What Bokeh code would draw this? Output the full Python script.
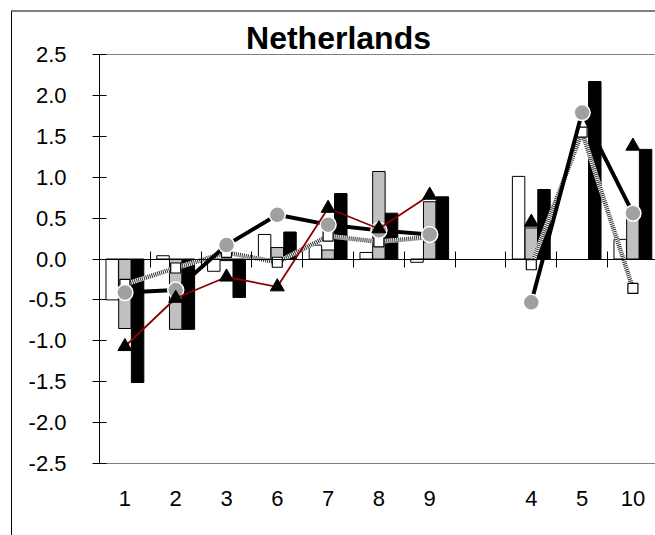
import math
from bokeh.plotting import figure
from bokeh.models import (ColumnDataSource, FixedTicker, LinearAxis, Range1d,
                          Label, PrintfTickFormatter)
from bokeh.embed import file_html
from bokeh.resources import INLINE

nan = float("nan")

# ---- data -------------------------------------------------------------
slot_labels = ["1", "2", "3", "6", "7", "8", "9", "", "4", "5", "10"]
categories = ["1", "2", "3", "6", "7", "8", "9", "4", "5", "10"]
white_bars = [-0.50, 0.04, -0.15, 0.30, 0.17, 0.08, -0.04, 1.01, nan, 0.24]
gray_bars = [-0.85, -0.86, -0.02, 0.14, 0.11, 1.07, 0.70, 0.38, nan, 0.55]
black_bars = [-1.51, -0.86, -0.47, 0.33, 0.80, 0.56, 0.76, 0.85, 2.17, 1.34]
circle_vals = [-0.41, -0.38, 0.17, 0.54, 0.42, 0.35, 0.30, -0.53, 1.79, 0.56]
triangle_vals = [-1.07, -0.48, -0.22, -0.34, 0.62, 0.37, 0.78, 0.45, nan, 1.38]
square_vals = [-0.31, -0.11, 0.08, -0.04, 0.28, 0.21, 0.27, -0.07, 1.55, -0.36]
y_ticks = [-2.5, -2.0, -1.5, -1.0, -0.5, 0.0, 0.5, 1.0, 1.5, 2.0, 2.5]
Y_MIN, Y_MAX = -2.5, 2.5
title_text = "Netherlands"

# category centre positions (slot index + 0.5)
xpos = [slot_labels.index(c) + 0.5 for c in categories]
N_SLOTS = len(slot_labels)
FONT = "Liberation Sans"

# pixel geometry (canvas == page, frame == canvas)
W, H = 655, 535
SLOT_PX = 50.8          # pixels per category slot
UNIT_PX = 81.8          # pixels per y unit
AXIS_X = 99             # value axis position (px from left)
TOP_Y = 54              # y = 2.5 position (px from top)
BOX = 10.5              # outer box line position (px)


def bar_source(vals, offset):
    xs = [x + offset for x, v in zip(xpos, vals) if not math.isnan(v)]
    ts = [v for v in vals if not math.isnan(v)]
    return ColumnDataSource(dict(x=xs, top=ts))


def line_source(vals):
    # insert a break at the empty slot so lines do not cross the gap
    xs, ys = [], []
    for i, lab in enumerate(slot_labels):
        xs.append(i + 0.5)
        ys.append(vals[categories.index(lab)] if lab in categories else nan)
    return ColumnDataSource(dict(x=xs, y=ys))


x0 = -AXIS_X / SLOT_PX
x1 = x0 + W / SLOT_PX
y1 = Y_MAX + TOP_Y / UNIT_PX
y0 = y1 - H / UNIT_PX
px2x = lambda px: x0 + px / SLOT_PX
px2y = lambda py: y1 - py / UNIT_PX

p = figure(width=W, height=H, output_backend="svg", toolbar_location=None,
           x_range=Range1d(x0, x1), y_range=Range1d(y0, y1),
           x_axis_type=None, y_axis_type=None,
           min_border_left=0, min_border_right=0, min_border_top=0, min_border_bottom=0)
p.xgrid.visible = False
p.ygrid.visible = False
p.outline_line_color = None
p.background_fill_color = "white"
p.border_fill_color = "white"

# outer chart box top edge and plot-area top edge
p.segment(x0=[px2x(BOX)], y0=[px2y(BOX)], x1=[x1], y1=[px2y(BOX)],
          line_color="black", line_width=1)
p.segment(x0=[0], y0=[Y_MAX], x1=[x1], y1=[Y_MAX], line_color="#808080", line_width=1)

bw = 0.245
p.vbar(x="x", top="top", bottom=0, width=bw, source=bar_source(white_bars, -0.25),
       fill_color="white", line_color="black", line_width=1)
p.vbar(x="x", top="top", bottom=0, width=bw, source=bar_source(gray_bars, 0.0),
       fill_color="#c0c0c0", line_color="black", line_width=1)
p.vbar(x="x", top="top", bottom=0, width=bw, source=bar_source(black_bars, 0.25),
       fill_color="black", line_color="black", line_width=1)

# dotted (checkered) line with white squares
sq = line_source(square_vals)
p.line("x", "y", source=sq, line_color="white", line_width=4.5)
p.line("x", "y", source=sq, line_color="#303030", line_width=4.5, line_dash="1 1")
p.scatter("x", "y", source=sq, marker="square", size=10,
          fill_color="white", line_color="black", line_width=1.2)

# thick black line with grey circles
ci = line_source(circle_vals)
p.line("x", "y", source=ci, line_color="black", line_width=4)
p.scatter("x", "y", source=ci, marker="circle", size=16,
          fill_color="#a0a0a0", line_color="white", line_width=1.5)

# thin dark red line with black triangles
tr = line_source(triangle_vals)
p.line("x", "y", source=tr, line_color="#8b0000", line_width=1.8)
p.scatter("x", "y", source=tr, marker="triangle", size=14,
          fill_color="black", line_color="black", line_width=1)

# outer chart box left edge
bax = LinearAxis(ticker=FixedTicker(ticks=[]), fixed_location=px2x(BOX), bounds=(y0, px2y(BOX)))
bax.axis_line_color = "black"
bax.major_tick_line_color = None
bax.minor_tick_line_color = None
bax.major_label_text_alpha = 0
bax.major_label_text_font_size = "1px"
p.add_layout(bax, "left")

# value axis (at category position 0)
yax = LinearAxis(ticker=FixedTicker(ticks=y_ticks), formatter=PrintfTickFormatter(format="%.1f"),
                 fixed_location=0, bounds=(Y_MIN, Y_MAX))
yax.axis_line_color = "black"
yax.major_tick_in = 7
yax.major_tick_out = 7
yax.minor_tick_line_color = None
yax.major_label_standoff = 26
yax.major_label_text_font = FONT
yax.major_label_text_font_size = "22px"
yax.major_label_text_color = "black"
p.add_layout(yax, "left")

# category labels under the plot area (line = plot-area bottom edge)
xax = LinearAxis(ticker=FixedTicker(ticks=xpos), fixed_location=Y_MIN, bounds=(0, x1),
                 major_label_overrides={x: c for x, c in zip(xpos, categories)})
xax.axis_line_color = "#808080"
xax.major_tick_line_color = None
xax.minor_tick_line_color = None
xax.major_tick_out = 0
xax.major_tick_in = 0
xax.major_label_standoff = 27
xax.major_label_text_font = FONT
xax.major_label_text_font_size = "22px"
xax.major_label_text_color = "black"
p.add_layout(xax, "below")

# category axis line at zero with ticks between categories
zax = LinearAxis(ticker=FixedTicker(ticks=list(range(1, N_SLOTS))), fixed_location=0,
                 bounds=(0, x1))
zax.axis_line_color = "black"
zax.major_tick_in = 8
zax.major_tick_out = 8
zax.minor_tick_line_color = None
zax.major_label_text_alpha = 0
zax.major_label_text_font_size = "1px"
p.add_layout(zax, "below")

# title (centre x = 338 px, glyph baseline ~ 49 px)
title = Label(x=px2x(338), y=px2y(37.5), text=title_text,
              text_align="center", text_baseline="alphabetic", text_font=FONT,
              text_font_size="32px", text_font_style="bold", text_color="black")
p.add_layout(title)

open("out.html", "w").write(file_html(p, INLINE))
